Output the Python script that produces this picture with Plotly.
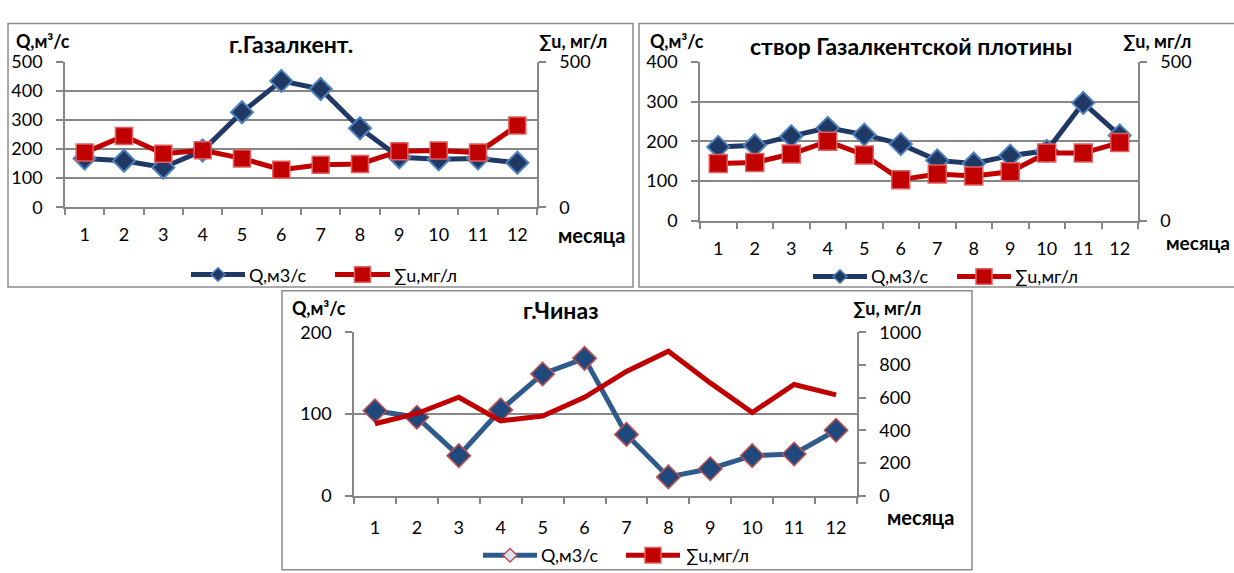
import plotly.graph_objects as go

# ---------------- data ----------------
months = [str(i) for i in range(1, 13)]

gaz_q = [168, 160, 137, 195, 327, 435, 407, 272, 172, 165, 168, 153]
gaz_u = [188, 245, 184, 196, 168, 129, 146, 149, 193, 195, 188, 281]

dam_q = [186, 190, 213, 234, 217, 193, 152, 144, 164, 176, 297, 215]
dam_u = [180, 183, 210, 250, 207, 129, 147, 141, 154, 213, 213, 246]

chin_q = [104, 96, 49, 105, 149, 168, 75, 23, 33, 49, 51, 80]
chin_u = [440, 503, 602, 458, 487, 602, 760, 884, 690, 509, 680, 617]

titles = ["г.Газалкент.", "створ Газалкентской плотины", "г.Чиназ"]
q_axis_title = "Q,м³/с"
u_axis_title = "∑u, мг/л"
x_axis_title = "месяца"
q_name = "Q,м3/с"
u_name = "∑u,мг/л"

# ---------------- style ----------------
W, H = 1234, 573
FONT = "Lato, 'Noto Sans', sans-serif"
GRID = "#868686"
NAVY = "#1F3864"
BLUE3 = "#2E5A8C"
RED = "#C00000"
TICK = 18


def X(px):
    return px / W


def Y(py):
    return 1 - py / H


fig = go.Figure()

# chart 1
fig.add_trace(go.Scatter(x=months, y=gaz_q, mode="lines+markers", name=q_name,
                         line=dict(color=NAVY, width=5), xaxis="x", yaxis="y",
                         marker=dict(symbol="diamond", size=17, color=NAVY,
                                     line=dict(color="#4F81BD", width=2)),
                         showlegend=False))
fig.add_trace(go.Scatter(x=months, y=gaz_u, mode="lines+markers", name=u_name,
                         line=dict(color=RED, width=5), xaxis="x", yaxis="y2",
                         marker=dict(symbol="square", size=17, color=RED,
                                     line=dict(color="#E06060", width=1.5)),
                         showlegend=False))
# chart 2
fig.add_trace(go.Scatter(x=months, y=dam_q, mode="lines+markers", name=q_name,
                         line=dict(color=NAVY, width=5), xaxis="x2", yaxis="y3",
                         marker=dict(symbol="diamond", size=17, color=NAVY,
                                     line=dict(color="#4F81BD", width=2)),
                         showlegend=False))
fig.add_trace(go.Scatter(x=months, y=dam_u, mode="lines+markers", name=u_name,
                         line=dict(color=RED, width=5), xaxis="x2", yaxis="y4",
                         marker=dict(symbol="square", size=18, color=RED,
                                     line=dict(color="#E06060", width=1.5)),
                         showlegend=False))
# chart 3
fig.add_trace(go.Scatter(x=months, y=chin_u, mode="lines", name=u_name,
                         line=dict(color=RED, width=5), xaxis="x3", yaxis="y6",
                         showlegend=False))
fig.add_trace(go.Scatter(x=months, y=chin_q, mode="lines+markers", name=q_name,
                         line=dict(color=BLUE3, width=5), xaxis="x3", yaxis="y5",
                         marker=dict(symbol="diamond", size=18, color="#1F497D",
                                     line=dict(color="#C0504D", width=1.5)),
                         showlegend=False))


def xax(domain, anchor, standoff):
    return dict(domain=domain, anchor=anchor, type="category", range=[-0.5, 11.5],
                tickson="boundaries", ticks="outside", ticklen=6, tickcolor=GRID,
                tickwidth=1.5, showline=True, linecolor=GRID, linewidth=2,
                showgrid=False, zeroline=False, fixedrange=True,
                tickfont=dict(family=FONT, size=TICK, color="#000"),
                ticklabelstandoff=standoff)


def yax(domain, anchor, rng, dtick, grid, side="left", overlay=None, tickvals=None):
    d = dict(anchor=anchor, range=rng, side=side, showline=True, linecolor=GRID,
             linewidth=1.5, ticks="outside", ticklen=7, tickcolor=GRID, tickwidth=1.5,
             showgrid=grid, gridcolor=GRID, gridwidth=2, zeroline=False,
             tickfont=dict(family=FONT, size=TICK, color="#000"), ticklabelstandoff=10)
    if tickvals is not None:
        d["tickmode"] = "array"
        d["tickvals"] = tickvals
    else:
        d["dtick"] = dtick
        d["tick0"] = 0
    if overlay:
        d["overlaying"] = overlay
    else:
        d["domain"] = domain
    return d


c1x = [X(65), X(537)]
c1y = [Y(203), Y(52)]
c2x = [X(700), X(1138)]
c2y = [Y(217), Y(52)]
c3x = [X(354), X(857)]
c3y = [Y(503), Y(333)]

fig.update_layout(
    width=W, height=H, margin=dict(l=0, r=0, t=0, b=0),
    paper_bgcolor="white", plot_bgcolor="white",
    font=dict(family=FONT, color="#000"),
    xaxis=xax(c1x, "y", 10),
    yaxis=yax(c1y, "x", [0, 500], 100, True),
    yaxis2=yax(None, "x", [0, 500], None, False, side="right", overlay="y", tickvals=[0, 500]),
    xaxis2=xax(c2x, "y3", 11),
    yaxis3=yax(c2y, "x2", [0, 400], 100, True),
    yaxis4=yax(None, "x2", [0, 500], None, False, side="right", overlay="y3", tickvals=[0, 500]),
    xaxis3=xax(c3x, "y5", 15),
    yaxis5=yax(c3y, "x3", [0, 200], 100, True),
    yaxis6=yax(None, "x3", [0, 1000], 200, False, side="right", overlay="y5"),
    showlegend=False,
)

shapes = []
annotations = []

# chart frames
for x0, y0, x1, y1 in [(8, 12, 633, 286), (639, 12, 1240, 286), (282, 290, 972, 580)]:
    shapes.append(dict(type="rect", xref="paper", yref="paper",
                       x0=X(x0), x1=X(x1), y0=Y(y1), y1=Y(y0),
                       line=dict(color="#8c8c8c", width=1.5), fillcolor="rgba(0,0,0,0)",
                       layer="below"))


def ann(text, x, y, anchor="center", size=15, bold=True):
    annotations.append(dict(text=f"<b>{text}</b>" if bold else text,
                            x=X(x), y=Y(y), xref="paper", yref="paper",
                            xanchor=anchor, yanchor="middle", showarrow=False,
                            font=dict(family=FONT, size=size, color="#000")))


def legend(y, bx0, bx1, btext, rx0, rx1, rtext, bfill, bline, bcol, dsize=7, ssize=8):
    shapes.append(dict(type="line", xref="paper", yref="paper", x0=X(bx0), x1=X(bx1),
                       y0=Y(y), y1=Y(y), line=dict(color=bcol, width=5)))
    cx = (bx0 + bx1) / 2
    path = (f"M {X(cx - dsize)},{Y(y)} L {X(cx)},{Y(y - dsize)} "
            f"L {X(cx + dsize)},{Y(y)} L {X(cx)},{Y(y + dsize)} Z")
    shapes.append(dict(type="path", xref="paper", yref="paper", path=path,
                       fillcolor=bfill, line=dict(color=bline, width=1.5)))
    shapes.append(dict(type="line", xref="paper", yref="paper", x0=X(rx0), x1=X(rx1),
                       y0=Y(y), y1=Y(y), line=dict(color=RED, width=5)))
    cx = (rx0 + rx1) / 2
    shapes.append(dict(type="rect", xref="paper", yref="paper",
                       x0=X(cx - ssize), x1=X(cx + ssize), y0=Y(y + ssize), y1=Y(y - ssize),
                       fillcolor=RED, line=dict(color="#E06060", width=1.5)))
    ann(q_name, btext, y, "left", 18, False)
    ann(u_name, rtext, y, "left", 18, False)


# chart 1 texts
ann(q_axis_title, 14, 30, "left", 18)
ann(titles[0], 291, 33, "center", 23)
ann(u_axis_title, 537, 30, "left", 18)
ann(x_axis_title, 556, 232, "left", 20)
legend(273, 191, 245, 247, 335, 390, 392, "#1F3864", "#4F81BD", NAVY)

# chart 2 texts
ann(q_axis_title, 648, 30, "left", 18)
ann(titles[1], 911, 35, "center", 23)
ann(u_axis_title, 1121, 30, "left", 18)
ann(x_axis_title, 1232, 240, "right", 19)
legend(275, 813, 867, 869, 957, 1011, 1013, "#1F3864", "#4F81BD", NAVY)

# chart 3 texts
ann(q_axis_title, 290, 308, "left", 18)
ann(titles[2], 561, 310, "center", 23)
ann(u_axis_title, 851, 308, "left", 18)
ann(x_axis_title, 885, 525, "left", 20)
legend(565, 483, 537, 539, 626, 680, 684, "#DCE6F2", "#C0504D", BLUE3)

fig.update_layout(shapes=shapes, annotations=annotations)
fig.write_html("out.html")
